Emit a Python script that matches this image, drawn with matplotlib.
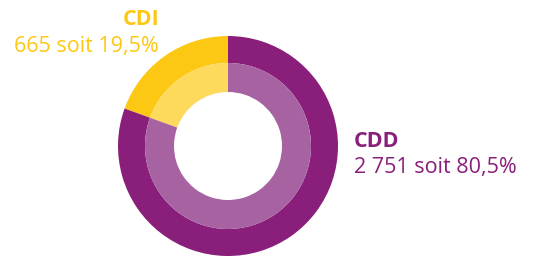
import matplotlib
matplotlib.use("Agg")
import matplotlib.pyplot as plt

categories = ["CDI", "CDD"]
counts = [665, 2751]
count_labels = ["665", "2 751"]
percent_labels = ["19,5%", "80,5%"]
outer_colors = ["#fcc814", "#8a1f7b"]
inner_colors = ["#fdd95c", "#a762a2"]

plt.rcParams['font.family'] = ['Open Sans', 'DejaVu Sans']

fig = plt.figure(figsize=(5.34, 2.57), dpi=100)
ax = fig.add_axes([0, 0, 1, 1])

cx, cy = 228, 111
ax.pie(counts, colors=outer_colors, startangle=90, counterclock=True,
       radius=110, center=(cx, cy), wedgeprops=dict(width=27, linewidth=0),
       frame=True)
ax.pie(counts, colors=inner_colors, startangle=90, counterclock=True,
       radius=83, center=(cx, cy), wedgeprops=dict(width=29, linewidth=0),
       frame=True)
ax.set_xlim(0, 534)
ax.set_ylim(0, 257)
ax.set_aspect('equal')
ax.axis('off')

fs = 15.5
# CDI label (right aligned, top left)
ax.text(159, 232, categories[0], color=outer_colors[0], fontsize=fs,
        fontweight='bold', ha='right', va='baseline')
ax.text(159, 205, f"{count_labels[0]} soit {percent_labels[0]}",
        color=outer_colors[0], fontsize=fs, ha='right', va='baseline')
# CDD label (left aligned, right)
ax.text(354, 110, categories[1], color=outer_colors[1], fontsize=fs,
        fontweight='bold', ha='left', va='baseline')
ax.text(354, 84, f"{count_labels[1]} soit {percent_labels[1]}",
        color=outer_colors[1], fontsize=fs, ha='left', va='baseline')

fig.savefig("out.png", dpi=100)
